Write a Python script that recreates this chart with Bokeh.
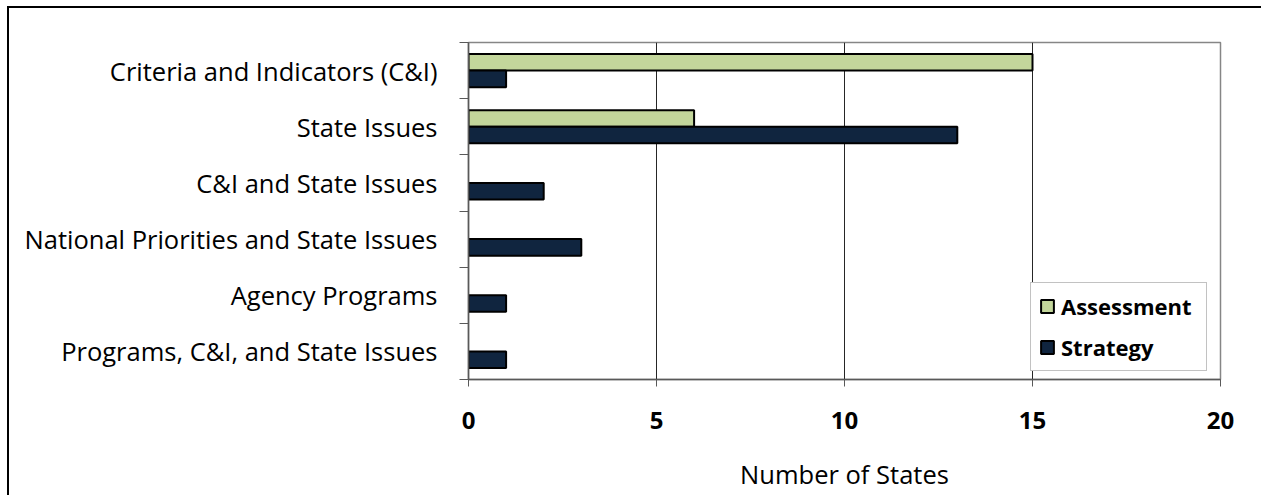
from bokeh.plotting import figure
from bokeh.models import ColumnDataSource, FixedTicker, Range1d, Legend, LegendItem
from bokeh.embed import file_html
from bokeh.resources import INLINE

# Approach used by each state, listed top to bottom
categories = [
    "Criteria and Indicators (C&I)",
    "State Issues",
    "C&I and State Issues",
    "National Priorities and State Issues",
    "Agency Programs",
    "Programs, C&I, and State Issues",
]
assessment = [15, 6, 0, 0, 0, 0]
strategy = [1, 13, 2, 3, 1, 1]
x_ticks = [0, 5, 10, 15, 20]

GREEN = "#C3D69B"
NAVY = "#10253F"
AXIS_GRAY = "#595959"
FONT = "Open Sans"

n = len(categories)
centers = [n - i - 0.5 for i in range(n)]   # band centre of each category
bar_h = 0.295                               # thickness of one bar, in band units

src_a = ColumnDataSource(dict(
    y=[c + bar_h / 2 for c, v in zip(centers, assessment) if v > 0],
    v=[v for v in assessment if v > 0],
))
src_s = ColumnDataSource(dict(
    y=[c - bar_h / 2 for c in centers],
    v=strategy,
))

p = figure(
    width=1254, height=489,
    x_range=Range1d(x_ticks[0], x_ticks[-1]), y_range=Range1d(0, n),
    output_backend="svg", toolbar_location=None,
    min_border_left=459, min_border_right=43, min_border_top=34, min_border_bottom=118,
    background_fill_color="white", border_fill_color="white",
)
p.styles = {
    "margin-left": "7px", "margin-top": "6px",
    "border-left": "2px solid #000000", "border-top": "2px solid #000000",
}
p.outline_line_color = "#868686"
p.outline_line_width = 1.5

r_a = p.hbar(y="y", right="v", left=0, height=bar_h, source=src_a,
             fill_color=GREEN, line_color="black", line_width=2)
r_s = p.hbar(y="y", right="v", left=0, height=bar_h, source=src_s,
             fill_color=NAVY, line_color="black", line_width=2)

# value axis
xa = p.xaxis[0]
xa.ticker = FixedTicker(ticks=x_ticks, minor_ticks=[])
xa.axis_line_color = AXIS_GRAY
xa.axis_line_width = 1.5
xa.major_tick_line_color = AXIS_GRAY
xa.major_tick_out = 7
xa.major_tick_in = 0
xa.major_label_text_font = FONT
xa.major_label_text_font_style = "bold"
xa.major_label_text_font_size = "24px"
xa.major_label_text_color = "black"
xa.major_label_standoff = 25
xa.axis_label = "Number of States"
xa.axis_label_text_font = FONT
xa.axis_label_text_font_style = "normal"
xa.axis_label_text_font_size = "25.5px"
xa.axis_label_text_color = "black"
xa.axis_label_standoff = 25

# category axis: boundaries as tick marks, names at band centres
ya = p.yaxis[0]
ya.ticker = FixedTicker(ticks=centers, minor_ticks=list(range(n + 1)))
ya.major_label_overrides = {c: name for c, name in zip(centers, categories)}
ya.axis_line_color = AXIS_GRAY
ya.axis_line_width = 1.5
ya.major_tick_out = 0
ya.major_tick_in = 0
ya.minor_tick_line_color = AXIS_GRAY
ya.minor_tick_out = 9
ya.minor_tick_in = 0
ya.major_label_text_font = FONT
ya.major_label_text_font_size = "25.5px"
ya.major_label_text_color = "black"
ya.major_label_standoff = 22

p.xgrid.ticker = FixedTicker(ticks=x_ticks, minor_ticks=[])
p.xgrid.grid_line_color = "#262626"
p.xgrid.grid_line_width = 1
p.ygrid.visible = False

legend = Legend(
    items=[LegendItem(label="Assessment", renderers=[r_a]),
           LegendItem(label="Strategy", renderers=[r_s])],
    location=(562, 8),
    orientation="vertical",
    label_text_font=FONT, label_text_font_style="bold",
    label_text_font_size="22px", label_text_color="black",
    glyph_width=16, glyph_height=16, label_height=28, label_width=137,
    label_standoff=6, spacing=11, padding=8, margin=0,
    border_line_color="#868686", border_line_width=1,
    background_fill_color="white", background_fill_alpha=1,
)
p.add_layout(legend)

open("out.html", "w").write(file_html(p, INLINE))
